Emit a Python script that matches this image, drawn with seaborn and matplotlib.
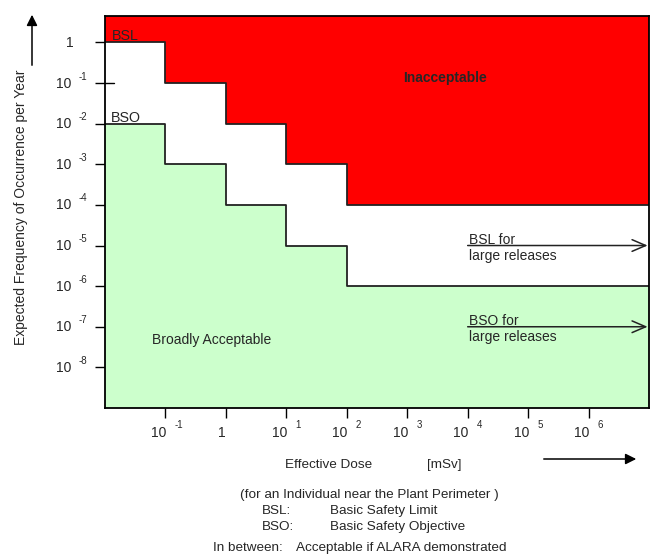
import matplotlib
matplotlib.use('Agg')
import matplotlib.pyplot as plt
import seaborn as sns
import pandas as pd
from matplotlib import transforms
from matplotlib.patches import FancyArrowPatch, ArrowStyle

# ---- data ----
dose_edges = [1e-2, 1e-1, 1, 1e1, 1e2, 1e7]          # mSv, step boundaries
bsl_freq = [1, 1e-1, 1e-2, 1e-3, 1e-4]               # Basic Safety Limit per dose band
bso_freq = [1e-2, 1e-3, 1e-4, 1e-5, 1e-6]            # Basic Safety Objective per dose band
x_tick_exp = [-1, 0, 1, 2, 3, 4, 5, 6]
y_tick_exp = [0, -1, -2, -3, -4, -5, -6, -7, -8]
large_dose = 1e4
bsl_large = 1e-5
bso_large = 1e-7
x_limits = (1e-2, 1e7)
y_limits = (10 ** -9, 10 ** 0.65)

W, H = 655, 556

sns.set_theme(style='white')
plt.rcParams['font.family'] = ['Liberation Sans', 'DejaVu Sans']

fig = plt.figure(figsize=(W / 100, H / 100), dpi=100)
ax = fig.add_axes([105 / W, 1 - 408 / H, 544 / W, 392 / H])
ax.set_xscale('log')
ax.set_yscale('log')

df = pd.DataFrame({
    'dose': dose_edges,
    'BSL': bsl_freq + [bsl_freq[-1]],
    'BSO': bso_freq + [bso_freq[-1]],
})

ax.fill_between(df['dose'], df['BSL'], y_limits[1], step='post', color='#ff0000', lw=0, zorder=1)
ax.fill_between(df['dose'], y_limits[0], df['BSO'], step='post', color='#ccffcc', lw=0, zorder=1)
sns.lineplot(data=df, x='dose', y='BSL', drawstyle='steps-post', color='#222222', lw=1.3,
             estimator=None, sort=False, ax=ax, zorder=3)
sns.lineplot(data=df, x='dose', y='BSO', drawstyle='steps-post', color='#222222', lw=1.3,
             estimator=None, sort=False, ax=ax, zorder=3)

ax.set_xlim(*x_limits)
ax.set_ylim(*y_limits)
ax.set_xlabel('')
ax.set_ylabel('')

for s in ax.spines.values():
    s.set_visible(True)
    s.set_color('black')
    s.set_linewidth(1.3)
    s.set_zorder(4)

ax.set_xticks([10.0 ** e for e in x_tick_exp])
ax.set_yticks([10.0 ** e for e in y_tick_exp])
ax.minorticks_off()
ax.tick_params(axis='both', which='major', direction='out', length=7.2, width=1.0,
               color='black', bottom=True, left=True, labelbottom=False, labelleft=False)

def off(tr, dx, dy):
    return transforms.offset_copy(tr, fig, x=dx, y=dy, units='dots')

bx = transforms.blended_transform_factory(ax.transData, ax.transAxes)
by = transforms.blended_transform_factory(ax.transAxes, ax.transData)

tick_fs = 10
sup_fs = 7
for e in x_tick_exp:
    xv = 10.0 ** e
    if e == 0:
        ax.text(xv, 0, '1', transform=off(bx, 0, -29), ha='right', va='baseline', fontsize=tick_fs)
    else:
        ax.text(xv, 0, '10', transform=off(bx, 1, -29), ha='right', va='baseline', fontsize=tick_fs)
        ax.text(xv, 0, str(e), transform=off(bx, 9, -20), ha='left', va='baseline', fontsize=sup_fs)

for e in y_tick_exp:
    yv = 10.0 ** e
    if e == 0:
        ax.text(0, yv, '1', transform=off(by, -31, -5), ha='right', va='baseline', fontsize=tick_fs)
    else:
        ax.text(0, yv, '10', transform=off(by, -34, -4.5), ha='right', va='baseline', fontsize=tick_fs)
        ax.text(0, yv, str(e), transform=off(by, -26.5, 3.5), ha='left', va='baseline', fontsize=sup_fs)

# the 10^-1 tick crosses into the axes
yv1 = 10.0 ** y_tick_exp[1]
ax.plot([0, 9 / 544], [yv1, yv1], transform=by, color='black', lw=1.0, clip_on=False, zorder=5)

# in-plot labels
dT = ax.transData
ax.text(dose_edges[0], bsl_freq[0], 'BSL', transform=off(dT, 7, 2), ha='left', va='baseline', fontsize=10.3, zorder=6)
ax.text(dose_edges[0], bso_freq[0], 'BSO', transform=off(dT, 5.5, 1.7), ha='left', va='baseline', fontsize=10.3, zorder=6)

fig.text(445 / W, 1 - 78 / H, 'Inacceptable', ha='center', va='center', fontsize=10, fontweight='bold')
fig.text(152 / W, 1 - 344 / H, 'Broadly Acceptable', ha='left', va='baseline', fontsize=10)

open_head = ArrowStyle('->', head_length=0.7, head_width=0.3)
for yv, name in [(bsl_large, 'BSL for'), (bso_large, 'BSO for')]:
    ax.annotate('', xy=(x_limits[1], yv), xytext=(large_dose, yv), xycoords='data',
                arrowprops=dict(arrowstyle=open_head, color='#222222', lw=1.1, mutation_scale=14,
                                shrinkA=0, shrinkB=1), zorder=6)
    ax.text(large_dose, yv, name, transform=off(dT, 1, 2), ha='left', va='baseline', fontsize=10, zorder=6)
    ax.text(large_dose, yv, 'large releases', transform=off(dT, 1, -14.5), ha='left', va='baseline', fontsize=10, zorder=6)

# y label and arrow
fig.text(21.5 / W, 1 - 207 / H, 'Expected Frequency of Occurrence per Year', rotation=90,
         ha='center', va='center', fontsize=10)
fig.add_artist(FancyArrowPatch((32 / W, 1 - 68 / H), (32 / W, 1 - 12 / H),
               transform=fig.transFigure, arrowstyle='-|>', mutation_scale=16, color='black', lw=1.1))

# x label, arrow and notes
fs_note = 9.7
fig.text(285 / W, 1 - 465 / H, 'Effective Dose', ha='left', va='center', fontsize=fs_note)
fig.text(427 / W, 1 - 465 / H, '[mSv]', ha='left', va='center', fontsize=fs_note)
fig.add_artist(FancyArrowPatch((541 / W, 1 - 459 / H), (639 / W, 1 - 459 / H),
               transform=fig.transFigure, arrowstyle='-|>', mutation_scale=16, color='black', lw=1.1))

fig.text(240 / W, 1 - 495 / H, '(for an Individual near the Plant Perimeter )', ha='left', va='center', fontsize=fs_note)
fig.text(262 / W, 1 - 511 / H, 'BSL:', ha='left', va='center', fontsize=fs_note)
fig.text(330 / W, 1 - 511 / H, 'Basic Safety Limit', ha='left', va='center', fontsize=fs_note)
fig.text(262 / W, 1 - 527 / H, 'BSO:', ha='left', va='center', fontsize=fs_note)
fig.text(330 / W, 1 - 527 / H, 'Basic Safety Objective', ha='left', va='center', fontsize=fs_note)
fig.text(213 / W, 1 - 548 / H, 'In between:', ha='left', va='center', fontsize=fs_note)
fig.text(296 / W, 1 - 548 / H, 'Acceptable if ALARA demonstrated', ha='left', va='center', fontsize=fs_note)

fig.savefig('out.png', dpi=100)
